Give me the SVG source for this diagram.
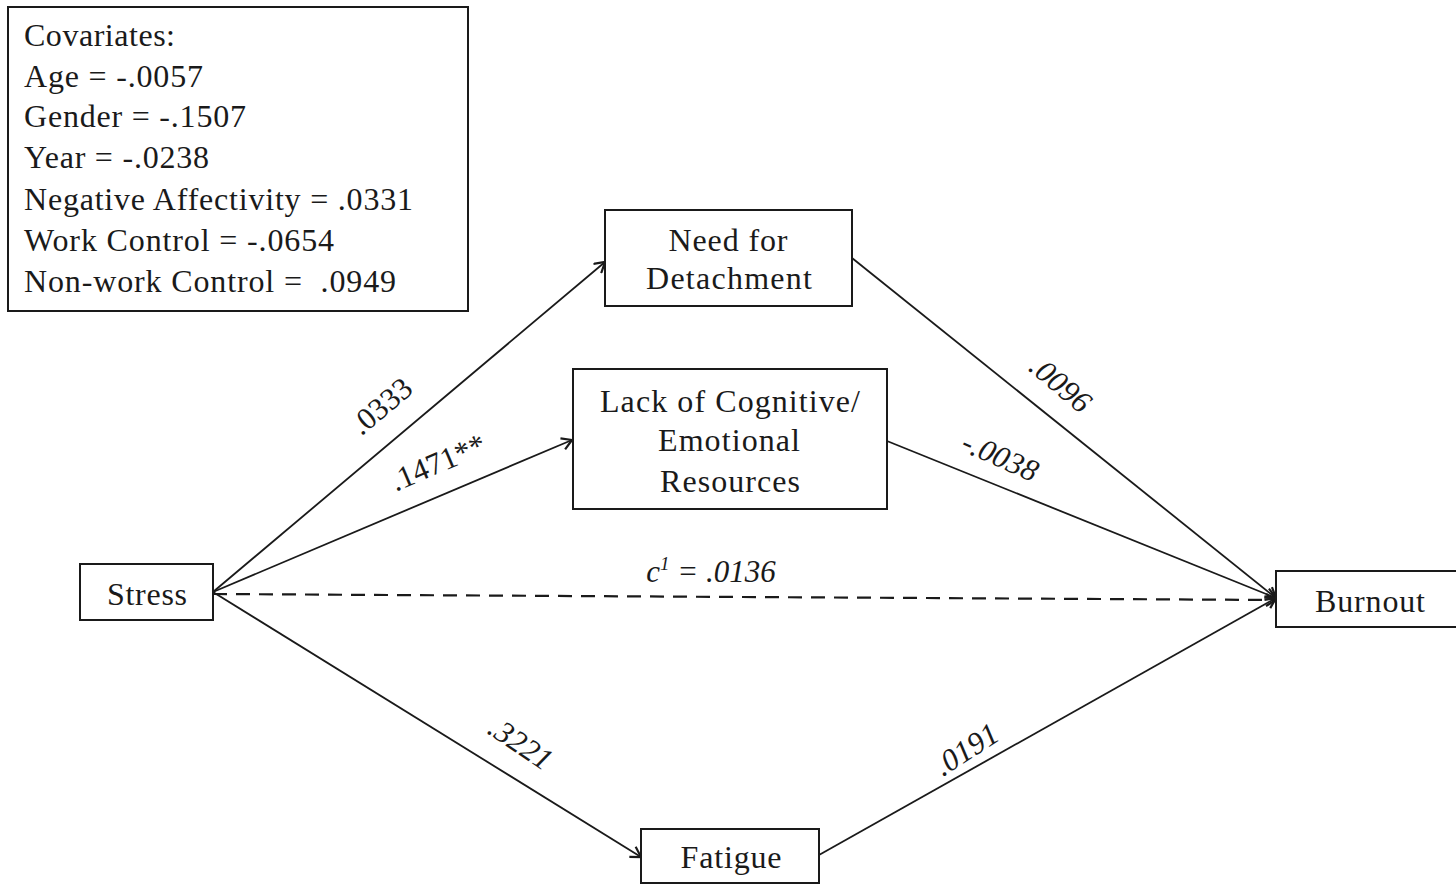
<svg xmlns="http://www.w3.org/2000/svg" width="1456" height="885" viewBox="0 0 1456 885">
  <style>
    .box { fill: #ffffff; stroke: #1a1a1a; stroke-width: 2; }
    .txt { font-family: "Liberation Serif", "Times New Roman", serif; font-size: 32px; fill: #1a1a1a; }
    .mid { text-anchor: middle; }
    .lbl { font-family: "Liberation Serif", "Times New Roman", serif; font-size: 31px; fill: #1a1a1a; text-anchor: middle; }
    .it { font-style: italic; }
    .edge { stroke: #1a1a1a; stroke-width: 1.8; fill: none; marker-end: url(#arrow); }
    .dash { stroke-dasharray: 14 9; stroke-width: 2.2; }
  </style>
  <defs>
    <marker id="arrow" markerWidth="14" markerHeight="14" refX="12" refY="7" orient="auto" markerUnits="userSpaceOnUse">
      <path d="M2,1 L12,7 L2,13" fill="none" stroke="#1a1a1a" stroke-width="2.2"/>
    </marker>
  </defs>
  <rect width="1456" height="885" fill="#ffffff"/>

  <!-- path arrows with their coefficients -->
  <g id="connectors">
    <line class="edge" x1="213" y1="592" x2="605" y2="262"/>
    <line class="edge" x1="213" y1="592" x2="572" y2="440"/>
    <line class="edge" x1="213" y1="592" x2="641" y2="857"/>
    <line class="edge dash" x1="213" y1="594" x2="1276" y2="600"/>
    <line class="edge" x1="852" y1="258" x2="1276" y2="598"/>
    <line class="edge" x1="887" y1="441" x2="1276" y2="598"/>
    <line class="edge" x1="819" y1="855" x2="1276" y2="598"/>
    <text class="lbl" transform="translate(388,414) rotate(-40)">.0333</text>
    <text class="lbl" transform="translate(442,472) rotate(-23)">.1471**</text>
    <text class="lbl it" x="711" y="582" xml:space="preserve">c<tspan font-size="19" dy="-12">1</tspan><tspan dy="12"> = .0136</tspan></text>
    <text class="lbl it" transform="translate(1054,392) rotate(40)">.0096</text>
    <text class="lbl it" transform="translate(996,466) rotate(24)">-.0038</text>
    <text class="lbl it" transform="translate(515,752) rotate(34)">.3221</text>
    <text class="lbl it" transform="translate(972,758) rotate(-33)">.0191</text>
  </g>

  <!-- covariates panel -->
  <g id="covariates">
    <rect class="box" x="8" y="7" width="460" height="304"/>
    <text class="txt" x="24" y="46" textLength="151" lengthAdjust="spacing">Covariates:</text>
    <text class="txt" x="24" y="87" textLength="179" lengthAdjust="spacing">Age = -.0057</text>
    <text class="txt" x="24" y="127" textLength="222" lengthAdjust="spacing">Gender = -.1507</text>
    <text class="txt" x="24" y="168" textLength="185" lengthAdjust="spacing">Year = -.0238</text>
    <text class="txt" x="24" y="210" textLength="389" lengthAdjust="spacing">Negative Affectivity = .0331</text>
    <text class="txt" x="24" y="251" textLength="310" lengthAdjust="spacing">Work Control = -.0654</text>
    <text class="txt" x="24" y="292" textLength="372" lengthAdjust="spacing" xml:space="preserve">Non-work Control =  .0949</text>
  </g>

  <g id="need">
    <rect class="box" x="605" y="210" width="247" height="96"/>
    <text class="txt mid" x="728" y="251" textLength="119" lengthAdjust="spacing">Need for</text>
    <text class="txt mid" x="729" y="289" textLength="166" lengthAdjust="spacing">Detachment</text>
  </g>

  <g id="lack">
    <rect class="box" x="573" y="369" width="314" height="140"/>
    <text class="txt mid" x="730" y="412" textLength="260" lengthAdjust="spacing">Lack of Cognitive/</text>
    <text class="txt mid" x="729" y="451" textLength="142" lengthAdjust="spacing">Emotional</text>
    <text class="txt mid" x="730" y="492" textLength="140" lengthAdjust="spacing">Resources</text>
  </g>

  <g id="stress">
    <rect class="box" x="80" y="564" width="133" height="56"/>
    <text class="txt mid" x="147" y="605" textLength="80" lengthAdjust="spacing">Stress</text>
  </g>

  <g id="burnout">
    <rect class="box" x="1276" y="571" width="182" height="56"/>
    <text class="txt mid" x="1370" y="612" textLength="110" lengthAdjust="spacing">Burnout</text>
  </g>

  <g id="fatigue">
    <rect class="box" x="641" y="829" width="178" height="54"/>
    <text class="txt mid" x="731" y="868" textLength="101" lengthAdjust="spacing">Fatigue</text>
  </g>
</svg>
